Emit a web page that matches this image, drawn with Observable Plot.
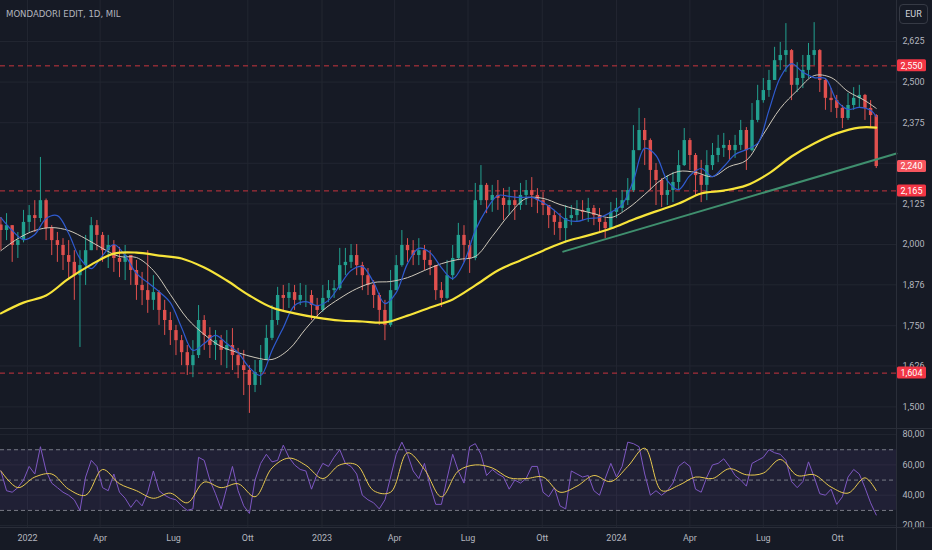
<!DOCTYPE html>
<html><head><meta charset="utf-8">
<script src="https://cdn.jsdelivr.net/npm/d3@7"></script>
<script src="https://cdn.jsdelivr.net/npm/@observablehq/plot@0.6"></script>
<style>
html,body{margin:0;padding:0;background:#161a25;}
#wrap{position:relative;width:932px;height:550px;background:#161a25;overflow:hidden;font-family:Roboto,sans-serif;}
#price{position:absolute;left:0;top:0;}
#rsi{position:absolute;left:0;top:428px;}
#title{position:absolute;left:6px;top:8px;font-family:"DejaVu Sans",sans-serif;font-stretch:condensed;font-size:9.5px;color:#b2b5be;letter-spacing:0;}
#eur{position:absolute;left:899px;top:4px;width:29px;height:20px;border:1px solid #363a45;border-radius:4px;color:#d1d4dc;font:9px Roboto,sans-serif;text-align:center;line-height:18px;box-sizing:border-box;}
.sep{position:absolute;background:#2a2e39;}
</style></head><body>
<div id="wrap">
  <div id="price"></div>
  <div id="rsi"></div>
  <div class="sep" style="left:0;top:428px;width:932px;height:1px"></div>
  <div class="sep" style="left:0;top:527px;width:932px;height:1px"></div>
  <div class="sep" style="left:896px;top:0;width:1px;height:550px"></div>
  <div id="title">MONDADORI EDIT, 1D, MIL</div>
  <div id="eur">EUR</div>
</div>
<script>
// ---------- DATA (weekly candles) ----------
const firstWeek = "2021-11-29";
const firstOpen = 2.060;
const closes = [
2.043,2.058,1.997,2.012,2.068,2.089,2.080,2.135,2.049,2.012,
1.997,1.966,1.945,1.904,1.935,1.981,2.058,2.028,1.981,1.997,
1.957,1.945,1.966,1.920,1.874,1.858,1.828,1.852,1.797,1.766,
1.735,1.704,1.667,1.627,1.658,1.766,1.720,1.689,1.704,1.674,
1.689,1.658,1.627,1.612,1.566,1.606,1.643,1.711,1.766,1.843,
1.834,1.852,1.828,1.843,1.843,1.812,1.797,1.834,1.858,1.864,
1.935,1.945,1.966,1.935,1.904,1.874,1.843,1.797,1.751,1.858,
1.935,1.997,1.981,1.966,1.981,1.951,1.935,1.858,1.834,1.904,
1.957,2.028,1.997,1.957,2.135,2.182,2.135,2.151,2.142,2.120,
2.135,2.120,2.151,2.166,2.151,2.135,2.120,2.089,2.068,2.049,
2.080,2.089,2.105,2.099,2.111,2.089,2.068,2.049,2.099,2.111,
2.135,2.166,2.289,2.351,2.320,2.228,2.197,2.151,2.166,2.191,
2.243,2.320,2.274,2.212,2.182,2.243,2.274,2.296,2.305,2.289,
2.305,2.351,2.289,2.382,2.443,2.474,2.505,2.566,2.582,2.597,
2.490,2.511,2.536,2.582,2.597,2.505,2.450,2.443,2.419,2.388,
2.428,2.450,2.459,2.419,2.397,2.240];
const highs = [
2.083,2.095,2.058,2.037,2.105,2.120,2.135,2.268,2.140,2.058,
2.037,2.018,2.012,1.981,1.981,2.028,2.083,2.074,2.037,2.028,
2.012,1.991,1.997,1.966,1.951,1.914,1.981,1.904,1.858,1.828,
1.791,1.751,1.720,1.689,1.704,1.812,1.781,1.744,1.735,1.720,
1.735,1.741,1.680,1.674,1.627,1.643,1.689,1.751,1.812,1.868,
1.874,1.880,1.874,1.880,1.874,1.858,1.834,1.874,1.889,1.889,
1.988,1.988,2.000,2.000,1.945,1.926,1.889,1.850,1.828,1.920,
1.966,2.043,2.018,2.012,2.018,1.997,1.981,1.935,1.883,1.951,
1.997,2.065,2.058,2.012,2.188,2.243,2.188,2.182,2.197,2.172,
2.176,2.166,2.188,2.197,2.206,2.172,2.160,2.120,2.105,2.095,
2.120,2.120,2.135,2.135,2.142,2.120,2.111,2.080,2.129,2.142,
2.166,2.203,2.366,2.419,2.388,2.325,2.249,2.203,2.212,2.222,
2.289,2.357,2.326,2.280,2.259,2.289,2.311,2.336,2.342,2.320,
2.336,2.382,2.360,2.434,2.490,2.511,2.536,2.607,2.622,2.680,
2.600,2.560,2.582,2.619,2.683,2.600,2.510,2.480,2.459,2.428,
2.465,2.483,2.490,2.462,2.443,2.400];
const lows = [
1.981,2.012,1.945,1.957,2.005,2.037,2.037,2.068,2.012,1.966,
1.945,1.920,1.889,1.828,1.683,1.874,1.981,1.981,1.945,1.926,
1.914,1.898,1.889,1.874,1.828,1.812,1.788,1.797,1.751,1.720,
1.689,1.658,1.627,1.597,1.590,1.649,1.674,1.649,1.643,1.627,
1.618,1.612,1.587,1.535,1.480,1.544,1.566,1.643,1.704,1.751,
1.797,1.803,1.797,1.812,1.806,1.766,1.772,1.791,1.821,1.834,
1.858,1.904,1.926,1.904,1.858,1.843,1.803,1.751,1.704,1.745,
1.858,1.930,1.945,1.935,1.935,1.920,1.904,1.828,1.806,1.830,
1.889,1.950,1.945,1.911,1.950,2.120,2.095,2.099,2.105,2.074,
2.089,2.074,2.105,2.120,2.114,2.095,2.089,2.049,2.028,2.012,
2.003,2.058,2.068,2.074,2.068,2.058,2.037,2.018,2.049,2.080,
2.099,2.120,2.160,2.289,2.243,2.166,2.120,2.114,2.120,2.129,
2.166,2.240,2.228,2.151,2.129,2.135,2.228,2.252,2.268,2.259,
2.265,2.289,2.228,2.285,2.375,2.435,2.453,2.505,2.536,2.530,
2.443,2.468,2.480,2.511,2.551,2.468,2.413,2.406,2.388,2.357,
2.382,2.413,2.419,2.382,2.357,2.234];

// moving averages, sampled every N weeks along the candles
const ma200Step = 4;
const ma200 = [1.788,1.821,1.843,1.895,1.938,1.972,1.975,1.966,1.957,1.929,
1.889,1.843,1.806,1.788,1.775,1.766,1.763,1.760,1.781,1.806,
1.831,1.874,1.920,1.951,1.981,2.009,2.028,2.049,2.077,2.102,
2.126,2.157,2.166,2.182,2.219,2.271,2.311,2.342,2.360,2.360];
const ma50Step = 3;
const ma50 = [1.981,2.018,2.043,2.052,2.043,2.018,1.988,1.963,1.960,1.920,
1.846,1.772,1.723,1.686,1.667,1.652,1.646,1.677,1.741,1.797,
1.834,1.864,1.883,1.886,1.898,1.920,1.941,1.954,1.963,2.025,
2.092,2.142,2.142,2.123,2.108,2.095,2.083,2.111,2.154,2.200,
2.225,2.222,2.209,2.240,2.259,2.339,2.419,2.474,2.520,2.514,
2.471,2.443,2.419];
const ma20Step = 2;
const ma20 = [2.083,2.043,2.015,2.031,2.080,2.089,2.034,1.957,1.926,1.966,
2.000,1.966,1.911,1.883,1.855,1.821,1.744,1.674,1.695,1.720,
1.695,1.667,1.621,1.597,1.674,1.744,1.812,1.824,1.812,1.828,
1.874,1.920,1.932,1.883,1.818,1.852,1.941,1.988,1.975,1.929,
1.895,1.945,2.043,2.108,2.151,2.148,2.145,2.145,2.129,2.105,
2.077,2.071,2.080,2.083,2.099,2.123,2.197,2.296,2.274,2.197,
2.169,2.212,2.234,2.209,2.240,2.277,2.292,2.311,2.413,2.514,
2.557,2.530,2.514,2.511,2.443,2.416,2.422,2.413,2.394];

// trend line and horizontal levels
const trendDates = ["2023-10-27", "2024-12-13"];
const trendValues = [1.978, 2.280];
const levels = [2.550, 2.165, 1.604];
const lastPrice = 2.240;

// RSI (weekly) and its moving average
const rsi = [
56,43,42,45,50,59,54,72,56,48,
45,42,40,37,30,52,63,59,45,43,
54,42,38,32,37,33,42,56,43,40,
38,37,33,30,31,65,63,50,41,31,
45,59,43,33,28,50,61,67,62,63,
73,65,60,57,56,44,54,61,59,65,
70,61,59,54,40,37,35,31,37,52,
67,75,67,56,51,61,46,34,34,51,
67,56,48,72,74,67,53,57,54,52,
44,50,48,51,59,59,42,39,45,33,
31,56,54,52,53,43,40,51,61,52,
59,75,74,72,54,40,43,40,43,48,
59,62,59,44,42,52,60,61,64,59,
53,50,46,61,63,65,70,68,67,63,
49,45,49,62,52,41,40,44,34,39,
52,57,54,45,35,27];
const rsiMaStep = 3;
const rsiMa = [56,45,52,54,44,40,57,47.6,43,38,
41.4,35,48.7,45,47.6,39,58,64.5,59.7,51,
60,60,43,42,68,57,39,56,60,58,
51.5,51,52,42,46,53,49,59,71,43,
46.5,52,51,57.5,53.5,54.6,63.6,53,53.5,45.4,
41.4,51.5,43];
const rsiLevels = [70, 50, 30];
const rsiBand = [30, 70];

// axes
const priceTicks = [1.500,1.626,1.750,1.876,2.000,2.125,2.250,2.375,2.500,2.625];
const rsiTicks = [20, 40, 60, 80];
const tickDates = ["2022-01-01","2022-04-01","2022-07-01","2022-10-01","2023-01-01","2023-04-01","2023-07-01","2023-10-01","2024-01-01","2024-04-01","2024-07-01","2024-10-01"];
const tickLabels = ["2022","Apr","Lug","Ott","2023","Apr","Lug","Ott","2024","Apr","Lug","Ott"];

// ---------- BUILD ----------
const DAY = 864e5;
const t0 = new Date(firstWeek + "T00:00:00Z").getTime();
const weekDate = i => new Date(t0 + i * 7 * DAY);
const xDomain = [new Date("2021-11-28T12:00:00Z"), new Date("2024-12-13T02:00:00Z")];
const UP = "#22a08f", DOWN = "#e0504e", GRID = "#222631";
const fmtP = v => d3.format(".3f")(v).replace(".", ",");
const fmtR = v => d3.format(".2f")(v).replace(".", ",");
const tDates = tickDates.map(s => new Date(s + "T00:00:00Z"));
const labelMap = new Map(tDates.map((d, i) => [+d, tickLabels[i]]));
// tick labels fully hidden behind the last-price tag are not drawn (as in the reference)
const priceAxisTicks = priceTicks.filter(v => Math.abs(v - lastPrice) > 0.02);

const candles = closes.map((c, i) => {
  const open = i === 0 ? firstOpen : closes[i - 1];
  return {date: weekDate(i), open, close: c, high: highs[i], low: lows[i], col: c >= open ? UP : DOWN};
});

function sampled(arr, step, n) {
  const idx = d3.range(0, n, step);
  if (idx[idx.length - 1] !== n - 1) idx.push(n - 1);
  return arr.map((v, k) => ({date: weekDate(idx[k]), value: v}));
}
const N = closes.length;
const ma200Pts = sampled(ma200, ma200Step, N);
const ma50Pts = sampled(ma50, ma50Step, N);
const ma20Pts = sampled(ma20, ma20Step, N);
const rsiPts = rsi.map((v, i) => ({date: weekDate(i), value: v}));
const rsiMaPts = sampled(rsiMa, rsiMaStep, N);
const trend = trendDates.map((d, i) => ({date: new Date(d + "T00:00:00Z"), value: trendValues[i]}));

function priceLabels(index, scales, values, dimensions) {
  const g = d3.create("svg:g");
  const x0 = dimensions.width - dimensions.marginRight + 1;
  const items = levels.map(v => ({v, fill: "#f23645"})).concat([{v: lastPrice, fill: "#f5555e"}]);
  for (const it of items) {
    const y = scales.y(it.v);
    g.append("rect").attr("x", x0).attr("y", y - 6).attr("width", 29).attr("height", 12)
      .attr("rx", 1.5).attr("fill", it.fill);
    g.append("text").attr("x", x0 + 14.5).attr("y", y).attr("dy", "0.35em")
      .attr("text-anchor", "middle").attr("fill", "#ffffff").attr("font-size", 9)
      .attr("font-family", "Roboto, sans-serif").text(fmtP(it.v));
  }
  return g.node();
}

const price = Plot.plot({
  width: 932, height: 428,
  marginTop: 0, marginBottom: 0, marginLeft: 0, marginRight: 36,
  style: {background: "transparent", color: "#b2b5be", fontFamily: "Roboto, sans-serif", fontSize: "9px", overflow: "visible"},
  x: {type: "utc", domain: xDomain, axis: null},
  y: {domain: [1.4335, 2.7512], axis: null},
  color: {type: "identity"},
  marks: [
    Plot.ruleX(tDates, {stroke: GRID}),
    Plot.ruleY(priceTicks, {stroke: GRID}),
    Plot.ruleY(levels, {stroke: "#c8343e", strokeDasharray: "5,4", strokeWidth: 1}),
    Plot.ruleX(candles, {x: "date", y1: "low", y2: "high", stroke: "col", strokeWidth: 1}),
    Plot.ruleX(candles, {x: "date", y1: "open", y2: "close", stroke: "col", strokeWidth: 3.4}),
    Plot.line(trend, {x: "date", y: "value", stroke: "#3f8f6e", strokeWidth: 2}),
    Plot.line(ma50Pts, {x: "date", y: "value", stroke: "#cfc9bb", strokeWidth: 1, curve: "catmull-rom"}),
    Plot.line(ma20Pts, {x: "date", y: "value", stroke: "#2f5bd0", strokeWidth: 1.2, curve: "catmull-rom"}),
    Plot.line(ma200Pts, {x: "date", y: "value", stroke: "#f7e43a", strokeWidth: 2.2, curve: "catmull-rom"}),
    Plot.axisY(priceAxisTicks, {anchor: "right", tickSize: 0, tickPadding: 6, tickFormat: fmtP, label: null}),
    priceLabels
  ]
});
document.getElementById("price").append(price);

const rsiChart = Plot.plot({
  width: 932, height: 122,
  marginTop: 0, marginBottom: 23, marginLeft: 0, marginRight: 36,
  style: {background: "transparent", color: "#b2b5be", fontFamily: "Roboto, sans-serif", fontSize: "9px", overflow: "visible"},
  x: {type: "utc", domain: xDomain, label: null},
  y: {domain: [18.74, 84.0], axis: null, label: null},
  marks: [
    Plot.ruleX(tDates, {stroke: GRID}),
    Plot.ruleY(rsiTicks, {stroke: GRID}),
    Plot.rect([rsiBand], {x1: () => xDomain[0], x2: () => xDomain[1], y1: d => d[0], y2: d => d[1], fill: "#7e57c2", fillOpacity: 0.1}),
    Plot.ruleY(rsiLevels, {stroke: "#787b86", strokeDasharray: "4,3", strokeWidth: 1}),
    Plot.line(rsiPts, {x: "date", y: "value", stroke: "#7e57c2", strokeWidth: 1}),
    Plot.line(rsiMaPts, {x: "date", y: "value", stroke: "#e8c94f", strokeWidth: 1, curve: "catmull-rom"}),
    Plot.axisY(rsiTicks, {anchor: "right", tickSize: 0, tickPadding: 6, tickFormat: fmtR, label: null}),
    Plot.axisX(tDates, {anchor: "bottom", tickSize: 0, tickPadding: 7, tickFormat: d => labelMap.get(+d), label: null})
  ]
});
document.getElementById("rsi").append(rsiChart);
</script>
</body></html>
